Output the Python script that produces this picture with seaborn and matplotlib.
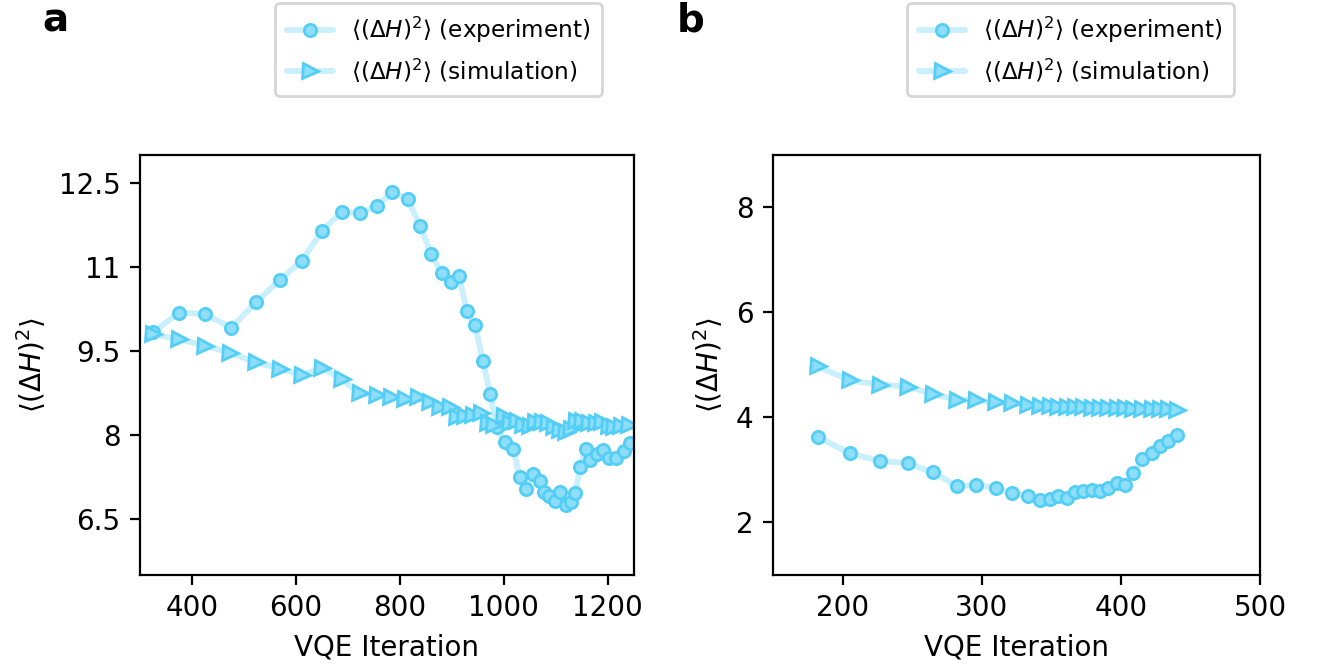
import matplotlib
matplotlib.use("Agg")
import matplotlib.pyplot as plt
import seaborn as sns
import numpy as np

# ---------------- data: panel a ----------------
a_exp_x = [326, 376, 426, 476, 523, 569, 611, 651, 688, 724, 756, 786, 815, 839,
           861, 881, 898, 914, 929, 945, 960, 974, 987, 1002, 1018, 1031, 1043,
           1056, 1069, 1078, 1087, 1098, 1108, 1119, 1129, 1138, 1147, 1158,
           1167, 1180, 1191, 1203, 1217, 1231, 1244]
a_exp_y = [9.83, 10.18, 10.15, 9.91, 10.36, 10.76, 11.10, 11.64, 11.98, 11.95,
           12.08, 12.33, 12.21, 11.73, 11.22, 10.88, 10.72, 10.84, 10.20, 9.95,
           9.32, 8.73, 8.13, 7.87, 7.75, 7.24, 7.03, 7.30, 7.18, 6.97, 6.90,
           6.81, 6.97, 6.75, 6.80, 6.96, 7.42, 7.75, 7.54, 7.66, 7.73, 7.58,
           7.59, 7.71, 7.85]
a_sim_x = [326, 376, 426, 474, 523, 569, 612, 651, 688, 723, 756, 784, 811, 835,
           858, 877, 896, 911, 925, 940, 956, 970, 982, 1000, 1013, 1026, 1038,
           1050, 1061, 1074, 1085, 1096, 1108, 1119, 1130, 1140, 1151, 1164,
           1177, 1190, 1203, 1213, 1226, 1241]
a_sim_y = [9.79, 9.70, 9.59, 9.46, 9.29, 9.18, 9.07, 9.19, 8.99, 8.74, 8.71,
           8.67, 8.63, 8.68, 8.59, 8.49, 8.49, 8.32, 8.33, 8.36, 8.39, 8.20,
           8.18, 8.33, 8.20, 8.24, 8.18, 8.16, 8.22, 8.22, 8.20, 8.14, 8.09,
           8.04, 8.10, 8.24, 8.24, 8.21, 8.21, 8.22, 8.16, 8.14, 8.15, 8.18]

# ---------------- data: panel b ----------------
b_x = [182, 205, 227, 247, 265, 282, 296, 310, 322, 333, 342, 349, 355, 361,
       367, 373, 379, 385, 391, 397, 403, 409, 415, 422, 428, 434, 440]
b_exp_y = [3.63, 3.31, 3.17, 3.12, 2.95, 2.69, 2.71, 2.65, 2.55, 2.50, 2.42,
           2.45, 2.50, 2.47, 2.58, 2.60, 2.61, 2.59, 2.65, 2.74, 2.71, 2.93,
           3.20, 3.31, 3.46, 3.55, 3.67]
b_sim_y = [4.97, 4.70, 4.62, 4.58, 4.44, 4.33, 4.32, 4.28, 4.27, 4.24, 4.22,
           4.21, 4.20, 4.20, 4.19, 4.19, 4.18, 4.18, 4.17, 4.17, 4.17, 4.16,
           4.16, 4.16, 4.15, 4.15, 4.14]

a_yticks = [6.5, 8, 9.5, 11, 12.5]
a_yticklabels = ["6.5", "8", "9.5", "11", "12.5"]
a_xticks = [400, 600, 800, 1000, 1200]
b_yticks = [2, 4, 6, 8]
b_xticks = [200, 300, 400, 500]

lab = r"$\langle(\Delta H)^2\rangle$"
exp_label = lab + " (experiment)"
sim_label = lab + " (simulation)"

LINE = "#c9f0fc"
FACE = "#8edefa"
EDGE = "#52cef7"

sns.set_style("ticks", {"axes.edgecolor": "black", "xtick.color": "black",
                        "ytick.color": "black", "text.color": "black",
                        "axes.labelcolor": "black"})
plt.rcParams["font.family"] = ["DejaVu Sans"]
plt.rcParams["font.size"] = 10
plt.rcParams["mathtext.fontset"] = "dejavusans"

fig = plt.figure(figsize=(6.6, 3.33), dpi=200)
axa = fig.add_axes([0.106, 0.137, 0.374, 0.631])
axb = fig.add_axes([0.5856, 0.137, 0.369, 0.631])


def draw(ax, x, y, marker, ms, label):
    sns.lineplot(x=x, y=y, ax=ax, estimator=None, sort=False, color=LINE,
                 lw=2.1, marker=marker, markersize=ms, markerfacecolor=FACE,
                 markeredgecolor=EDGE, markeredgewidth=1.0, label=label)


draw(axa, a_exp_x, a_exp_y, "o", 4.4, exp_label)
draw(axa, a_sim_x, a_sim_y, ">", 5.4, sim_label)
draw(axb, b_x, b_exp_y, "o", 4.4, exp_label)
draw(axb, b_x, b_sim_y, ">", 5.4, sim_label)

axa.set_xlim(300, 1250)
axa.set_ylim(5.5, 13)
axa.set_xticks(a_xticks)
axa.set_yticks(a_yticks)
axa.set_yticklabels(a_yticklabels)

axb.set_xlim(150, 500)
axb.set_ylim(1, 9)
axb.set_xticks(b_xticks)
axb.set_yticks(b_yticks)

for ax, lx in ((axa, 275 / 1320), (axb, 907 / 1320)):
    for s in ax.spines.values():
        s.set_visible(True)
        s.set_color("black")
        s.set_linewidth(0.8)
    ax.tick_params(direction="out", length=3.5, width=0.8, labelsize=10)
    ax.set_xlabel("VQE Iteration", fontsize=10)
    ax.set_ylabel(lab, fontsize=10)
    ax.legend(loc="upper left", bbox_to_anchor=(lx, 0.995),
              bbox_transform=fig.transFigure, borderaxespad=0,
              fontsize=8.33, frameon=True, framealpha=0.8, edgecolor="0.8",
              fancybox=True, borderpad=0.5)

fig.text(42 / 1320, 1 - 31 / 666, "a", fontsize=14, fontweight="bold",
         va="baseline")
fig.text(677 / 1320, 1 - 31 / 666, "b", fontsize=14, fontweight="bold",
         va="baseline")

fig.savefig("out.png", dpi=200)
